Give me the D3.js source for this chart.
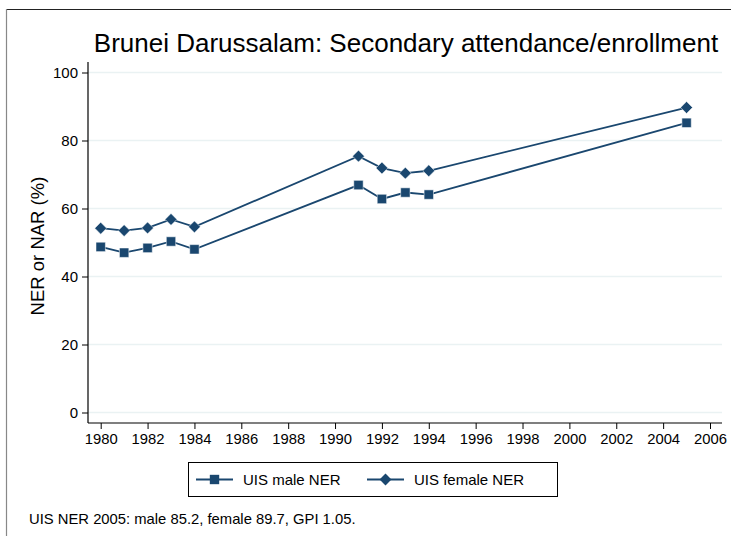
<!DOCTYPE html>
<html>
<head>
<meta charset="utf-8">
<script src="https://cdn.jsdelivr.net/npm/d3@7"></script>
<style>
  body { margin: 0; background: #fff; }
  text { font-family: "Liberation Sans", Arial, sans-serif; fill: #000; }
</style>
</head>
<body>
<div id="chart"></div>
<script>
// data
var years = [1980, 1981, 1982, 1983, 1984, 1991, 1992, 1993, 1994, 2005]
var maleNER = [48.7, 47.0, 48.4, 50.3, 48.0, 66.9, 62.8, 64.7, 64.1, 85.2]
var femaleNER = [54.2, 53.5, 54.3, 56.8, 54.6, 75.4, 71.9, 70.4, 71.1, 89.7]
var xTicks = [1980, 1982, 1984, 1986, 1988, 1990, 1992, 1994, 1996, 1998, 2000, 2002, 2004, 2006]
var yTicks = [0, 20, 40, 60, 80, 100]

var width = 731,
    height = 536

var navy = "#1a476f"

var svg = d3.select("#chart")
  .append("svg")
    .attr("width", width)
    .attr("height", height)

// outer frame (only top and left visible)
svg.append("line").attr("x1", 6).attr("x2", width).attr("y1", 9.5).attr("y2", 9.5)
  .attr("stroke", "#222").attr("stroke-width", 1.2)
svg.append("line").attr("x1", 6.5).attr("x2", 6.5).attr("y1", 9).attr("y2", height)
  .attr("stroke", "#888").attr("stroke-width", 1.2)

var x = d3.scaleLinear().domain([1980, 2006]).range([100.7, 710])
var y = d3.scaleLinear().domain([0, 100]).range([412.5, 72.5])

var plotLeft = 88, plotRight = 722, plotTop = 62, plotBottom = 423

// gridlines
svg.append("g")
  .selectAll("line")
  .data(yTicks)
  .enter()
  .append("line")
    .attr("x1", plotLeft)
    .attr("x2", plotRight)
    .attr("y1", function(d) { return y(d) })
    .attr("y2", function(d) { return y(d) })
    .attr("stroke", "#eaf2f3")
    .attr("stroke-width", 1.5)

// y axis
var yAxis = svg.append("g")
  .attr("transform", "translate(" + plotLeft + ",0)")
  .call(d3.axisLeft(y).tickValues(yTicks).tickSize(6).tickPadding(4).tickSizeOuter(0))
yAxis.select(".domain").attr("d", "M0," + plotTop + "V" + plotBottom).attr("stroke", "#000").attr("stroke-width", 1.2)
yAxis.selectAll("text").style("font-size", "15px").attr("fill", "#000")
  .style("font-family", "'Liberation Sans', Arial, sans-serif")

// x axis
var xAxis = svg.append("g")
  .attr("transform", "translate(0," + plotBottom + ")")
  .call(d3.axisBottom(x).tickValues(xTicks).tickFormat(d3.format("d")).tickSize(6).tickPadding(4).tickSizeOuter(0))
xAxis.select(".domain").attr("d", "M" + plotLeft + ",0H" + plotRight).attr("stroke", "#000").attr("stroke-width", 1.2)
xAxis.selectAll("text").style("font-size", "14.8px").attr("fill", "#000")
  .style("font-family", "'Liberation Sans', Arial, sans-serif")

// y axis title
svg.append("text")
  .attr("transform", "translate(44,246) rotate(-90)")
  .attr("text-anchor", "middle")
  .style("font-size", "18.5px")
  .text("NER or NAR (%)")

// title
svg.append("text")
  .attr("x", 406)
  .attr("y", 52)
  .attr("text-anchor", "middle")
  .style("font-size", "26px")
  .text("Brunei Darussalam: Secondary attendance/enrollment")

var line = d3.line()
  .x(function(d) { return x(d[0]) })
  .y(function(d) { return y(d[1]) })

var maleData = years.map(function(yr, i) { return [yr, maleNER[i]] })
var femaleData = years.map(function(yr, i) { return [yr, femaleNER[i]] })

svg.append("path").datum(maleData).attr("d", line)
  .attr("fill", "none").attr("stroke", navy).attr("stroke-width", 1.8)
svg.append("path").datum(femaleData).attr("d", line)
  .attr("fill", "none").attr("stroke", navy).attr("stroke-width", 1.8)

var square = d3.symbol().type(d3.symbolSquare).size(88)
var diamond = d3.symbol().type(d3.symbolDiamond2).size(90)

svg.append("g").selectAll("path")
  .data(maleData)
  .enter()
  .append("path")
    .attr("d", square)
    .attr("transform", function(d) { return "translate(" + x(d[0]) + "," + y(d[1]) + ")" })
    .attr("fill", navy)
    .attr("stroke", "#fff").attr("stroke-width", 0.5)

svg.append("g").selectAll("path")
  .data(femaleData)
  .enter()
  .append("path")
    .attr("d", diamond)
    .attr("transform", function(d) { return "translate(" + x(d[0]) + "," + y(d[1]) + ")" })
    .attr("fill", navy)
    .attr("stroke", "#fff").attr("stroke-width", 0.5)

// legend
var legend = svg.append("g")
legend.append("rect")
  .attr("x", 188.5).attr("y", 462.5).attr("width", 369).attr("height", 34)
  .attr("fill", "#fff").attr("stroke", "#000").attr("stroke-width", 1)

var legendItems = [
  {label: "UIS male NER", x: 196, sym: square},
  {label: "UIS female NER", x: 367, sym: diamond}
]
legendItems.forEach(function(it) {
  legend.append("line")
    .attr("x1", it.x).attr("x2", it.x + 37).attr("y1", 479.5).attr("y2", 479.5)
    .attr("stroke", navy).attr("stroke-width", 1.8)
  legend.append("path")
    .attr("d", it.sym)
    .attr("transform", "translate(" + (it.x + 18.5) + ",479.5)")
    .attr("fill", navy)
  legend.append("text")
    .attr("x", it.x + 47).attr("y", 485)
    .style("font-size", "15px")
    .text(it.label)
})

// note
svg.append("text")
  .attr("x", 29).attr("y", 524)
  .style("font-size", "14.8px")
  .text("UIS NER 2005: male 85.2, female 89.7, GPI 1.05.")
</script>
</body>
</html>
